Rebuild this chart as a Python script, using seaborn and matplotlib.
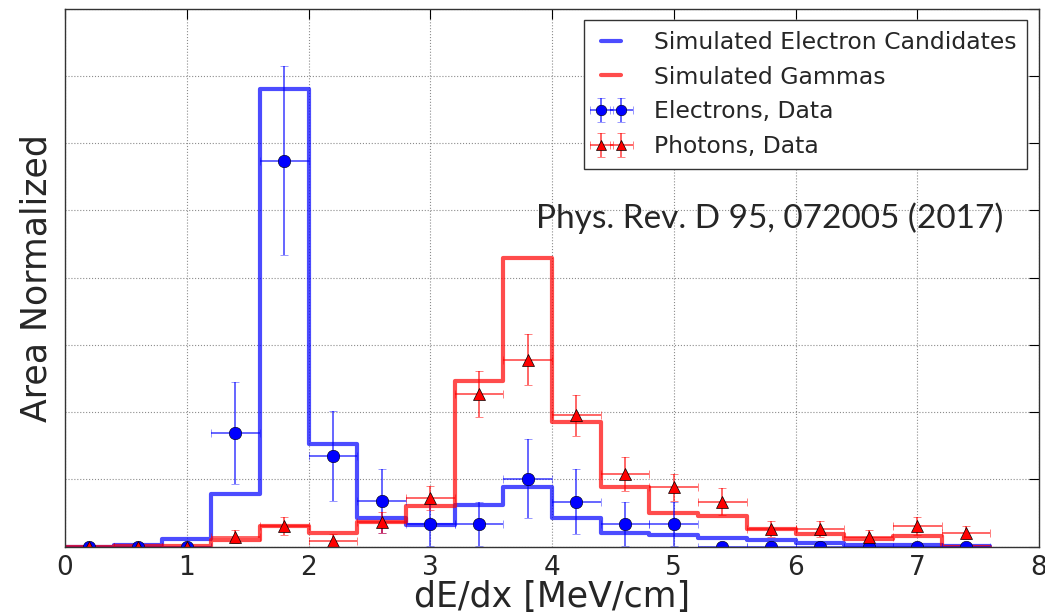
import numpy as np
import pandas as pd
import seaborn as sns
import matplotlib
matplotlib.use("Agg")
from matplotlib import pyplot as plt

# bin edges / centres (dE/dx in MeV/cm)
edges = [0.0, 0.4, 0.8, 1.2, 1.6, 2.0, 2.4, 2.8, 3.2, 3.6, 4.0,
         4.4, 4.8, 5.2, 5.6, 6.0, 6.4, 6.8, 7.2, 7.6]
centers = [0.2, 0.6, 1.0, 1.4, 1.8, 2.2, 2.6, 3.0, 3.4, 3.8,
           4.2, 4.6, 5.0, 5.4, 5.8, 6.2, 6.6, 7.0, 7.4]

# simulated histograms (area normalized, arbitrary units)
sim_electrons = [0.0, 0.02, 0.11, 0.79, 6.80, 1.52, 0.42, 0.32, 0.62, 0.88,
                 0.42, 0.21, 0.17, 0.13, 0.10, 0.06, 0.03, 0.03, 0.01]
sim_gammas = [0.0, 0.01, 0.01, 0.10, 0.30, 0.21, 0.36, 0.60, 2.47, 4.29,
              1.86, 0.89, 0.50, 0.45, 0.26, 0.19, 0.12, 0.16, 0.0]

# data points
data_electrons = [0.0, 0.0, 0.0, 1.69, 5.74, 1.35, 0.68, 0.34, 0.34, 1.01,
                  0.67, 0.34, 0.34, 0.0, 0.0, 0.0, 0.0, 0.0, 0.0]
data_electrons_err = [0.0, 0.0, 0.0, 0.76, 1.40, 0.67, 0.48, 0.33, 0.33, 0.59,
                      0.48, 0.33, 0.33, 0.0, 0.0, 0.0, 0.0, 0.0, 0.0]
data_photons = [0.0, 0.0, 0.0, 0.15, 0.31, 0.09, 0.36, 0.72, 2.27, 2.78,
                1.95, 1.08, 0.88, 0.67, 0.26, 0.26, 0.14, 0.31, 0.21]
data_photons_err = [0.0, 0.0, 0.0, 0.10, 0.13, 0.10, 0.15, 0.18, 0.34, 0.38,
                    0.31, 0.25, 0.20, 0.20, 0.12, 0.12, 0.11, 0.13, 0.10]

sim = pd.DataFrame({'x': centers, 'e': sim_electrons, 'g': sim_gammas})

sns.set_style("white")
plt.rcParams['font.family'] = ['DejaVu Sans']

fig = plt.figure(figsize=(10.45, 6.13), dpi=100)
ax = fig.add_axes([0.0622, 0.1082, 0.9321, 0.8779])

## simulated step histograms
sns.histplot(data=sim, x='x', weights='e', bins=edges, element='step', fill=False,
             color='b', alpha=0.7, linewidth=3, ax=ax)
h_e = ax.lines[-1]
sns.histplot(data=sim, x='x', weights='g', bins=edges, element='step', fill=False,
             color='r', alpha=0.7, linewidth=3, ax=ax)
h_g = ax.lines[-1]

## data with error bars
h_de = ax.errorbar(centers, data_electrons, xerr=0.2, yerr=data_electrons_err, fmt='o',
                   color='b', ecolor=(0, 0, 1, 0.7), elinewidth=1.2, capsize=3,
                   markersize=9, mec='k', mew=0.4)
h_dp = ax.errorbar(centers, data_photons, xerr=0.2, yerr=data_photons_err, fmt='^',
                   color='r', ecolor=(1, 0, 0, 0.7), elinewidth=1.2, capsize=3,
                   markersize=9, mec='k', mew=0.5)

ax.set_xlim(0, 8)
ax.set_ylim(0, 8)
ax.set_xticks(range(9))
ax.set_yticks(range(9))
ax.set_yticklabels([])
ax.tick_params(which='both', direction='in', top=True, right=True, length=7,
               labelsize=19, pad=6, color='k')
ax.grid(True, color='0.55', linestyle=':', linewidth=0.8)
for s in ax.spines.values():
    s.set_color('0.2')
    s.set_linewidth(1.0)

ax.set_xlabel('dE/dx [MeV/cm]', fontsize=25, labelpad=-1)
ax.set_ylabel('Area Normalized', fontsize=25, labelpad=2)

ax.legend([h_e, h_g, h_de, h_dp],
          ['Simulated Electron Candidates', 'Simulated Gammas',
           'Electrons, Data', 'Photons, Data'],
          loc='upper right', fontsize=16.9, numpoints=2, frameon=True,
          fancybox=False, edgecolor='0.2', framealpha=1, borderaxespad=0.5,
          handlelength=1.45, handletextpad=1.1, labelspacing=0.5, borderpad=0.45,
          markerscale=0.85)

ax.text(0.484, 0.593, 'Phys. Rev. D 95, 072005 (2017)', transform=ax.transAxes,
        fontsize=24, family=['Lato', 'DejaVu Sans'], va='baseline', ha='left')

fig.savefig('out.png', dpi=100)
